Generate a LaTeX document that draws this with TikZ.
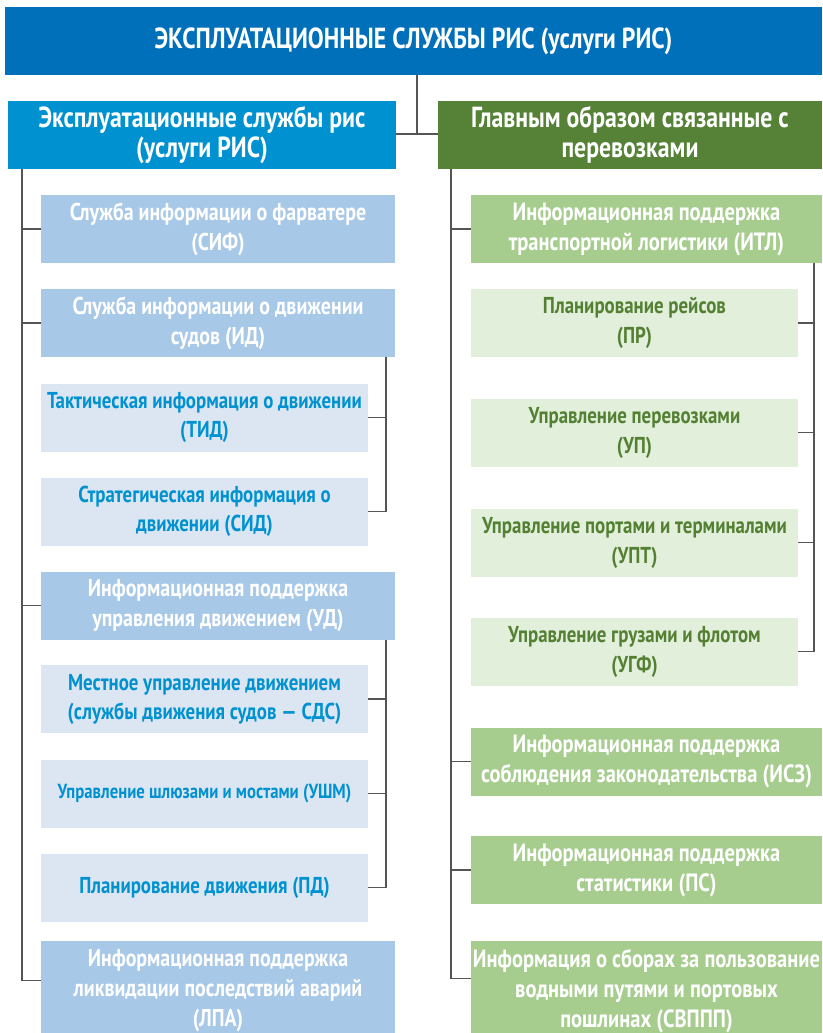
\documentclass[tikz,border=0pt]{standalone}
\usepackage{fontspec}
\setmainfont{PT Sans}[FakeStretch=0.82]
\definecolor{topblue}{RGB}{0,112,186}
\definecolor{midblue}{RGB}{0,146,208}
\definecolor{lightblue}{RGB}{168,200,232}
\definecolor{paleblue}{RGB}{220,230,242}
\definecolor{darkgreen}{RGB}{86,130,56}
\definecolor{midgreen}{RGB}{166,204,142}
\definecolor{palegreen}{RGB}{226,239,218}
\definecolor{textgreen}{RGB}{84,128,52}
\definecolor{linegray}{RGB}{85,85,85}
\begin{document}
\begin{tikzpicture}[x=1pt,y=-1pt,
  box/.style={rectangle,inner sep=0pt,align=center,text=white},
  topbox/.style={box,fill=topblue,minimum width=817pt,minimum height=68pt,font=\fontsize{29}{30}\selectfont\bfseries},
  mainbox/.style={box,minimum height=68pt,font=\fontsize{29}{30}\selectfont\bfseries},
  lchild/.style={box,fill=lightblue,minimum width=354pt,minimum height=68pt,font=\fontsize{24.3}{30}\selectfont\bfseries},
  lsub/.style={box,fill=paleblue,text=midblue,minimum width=327pt,minimum height=68pt,font=\fontsize{23}{29}\selectfont\bfseries},
  gchild/.style={box,fill=midgreen,minimum width=351pt,minimum height=68pt,font=\fontsize{25}{30}\selectfont\bfseries},
  gsub/.style={box,fill=palegreen,text=textgreen,minimum width=327pt,minimum height=68pt,font=\fontsize{23}{30}\selectfont\bfseries},
  conn/.style={draw=linegray,line width=1.3pt}]
\useasboundingbox (0,0) rectangle (822,1033);
\begin{scope}
\clip (0,0) rectangle (822,1033);
% top
\node[topbox] (top) at (413.5,41) {ЭКСПЛУАТАЦИОННЫЕ СЛУЖБЫ РИС (услуги РИС)};
\node[mainbox,fill=midblue,minimum width=388pt] (lmain) at (202,135) {Эксплуатационные службы рис\\(услуги РИС)};
\node[mainbox,fill=darkgreen,minimum width=384pt] (gmain) at (630,135) {Главным образом связанные с\\перевозками};
% left
\node[lchild] (sif) at (218,229) {Служба информации о фарватере\\(СИФ)};
\node[lchild] (id) at (218,323) {Служба информации о движении\\судов (ИД)};
\node[lsub] (tid) at (204.5,417.5) {Тактическая информация о движении\\(ТИД)};
\node[lsub] (sid) at (204.5,511.5) {Стратегическая информация о\\движении (СИД)};
\node[lchild] (ud) at (218,605.5) {Информационная поддержка\\управления движением (УД)};
\node[lsub] (sds) at (204.5,699) {Местное управление движением\\(службы движения судов — СДС)};
\node[lsub,font=\fontsize{20.4}{29}\selectfont\bfseries] (ushm) at (204.5,793.5) {Управление шлюзами и мостами (УШМ)};
\node[lsub] (pd) at (204.5,887.5) {Планирование движения (ПД)};
\node[lchild,minimum height=100pt] (lpa) at (218,991) {Информационная поддержка\\ликвидации последствий аварий\\(ЛПА)};
% right
\node[gchild] (itl) at (646.5,229) {Информационная поддержка\\транспортной логистики (ИТЛ)};
\node[gsub] (pr) at (634.5,323) {Планирование рейсов\\(ПР)};
\node[gsub] (up) at (634.5,432.5) {Управление перевозками\\(УП)};
\node[gsub] (upt) at (634.5,542.5) {Управление портами и терминалами\\(УПТ)};
\node[gsub] (ugf) at (634.5,651.5) {Управление грузами и флотом\\(УГФ)};
\node[gchild] (isz) at (646.5,761.5) {Информационная поддержка\\соблюдения законодательства (ИСЗ)};
\node[gchild] (ps) at (646.5,870) {Информационная поддержка\\статистики (ПС)};
\node[gchild,minimum height=100pt] (svppp) at (646.5,991) {Информация о сборах за пользование\\водными путями и портовых\\пошлинах (СВППП)};
% connectors
\coordinate (j) at (417,134);
\coordinate (lx) at (22,0);
\coordinate (rx) at (386,0);
\coordinate (gx) at (451,0);
\coordinate (gx2) at (814,0);
\draw[conn] (top.south -| j) -- (j);
\draw[conn] (lmain.east |- j) -- (gmain.west |- j);
\draw[conn] (lmain.south -| lx) |- ([yshift=-40pt]lpa.north west);
\draw[conn] (sif.west -| lx) -- (sif.west);
\draw[conn] (id.west -| lx) -- (id.west);
\draw[conn] (ud.west -| lx) -- (ud.west);
\draw[conn] (id.south -| rx) |- (sid.east);
\draw[conn] (tid.east) -- (tid.east -| rx);
\draw[conn] (ud.south -| rx) |- (pd.east);
\draw[conn] (sds.east) -- (sds.east -| rx);
\draw[conn] (ushm.east) -- (ushm.east -| rx);
\draw[conn] (gmain.south -| gx) |- ([yshift=-38pt]svppp.north west);
\draw[conn] (itl.west -| gx) -- (itl.west);
\draw[conn] (isz.west -| gx) -- (isz.west);
\draw[conn] (ps.west -| gx) -- (ps.west);
\draw[conn] (itl.south -| gx2) |- (ugf.east);
\draw[conn] (pr.east) -- (pr.east -| gx2);
\draw[conn] (up.east) -- (up.east -| gx2);
\draw[conn] (upt.east) -- (upt.east -| gx2);
\end{scope}
\end{tikzpicture}
\end{document}
